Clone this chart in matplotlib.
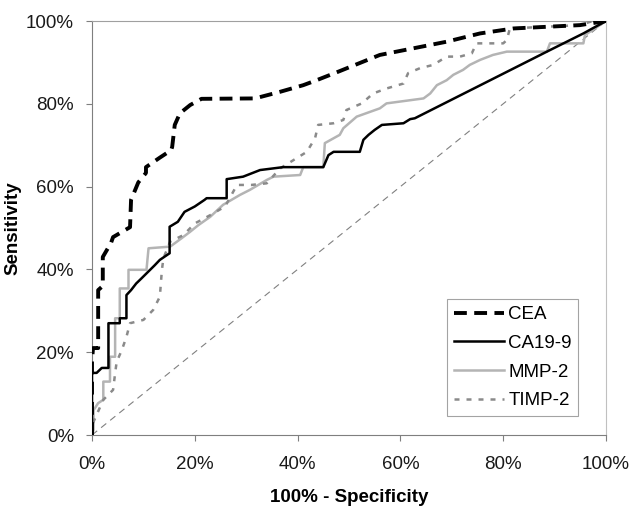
import matplotlib
matplotlib.use("Agg")
import matplotlib.pyplot as plt

# ROC curves, values in percent (100% - specificity, sensitivity)
cea_x = [0, 0, 0.2, 1.2, 1.2, 2.1, 2.1, 3.7, 4.1, 7.4, 7.6, 9.0, 10.5, 10.5,
         13.2, 15.4, 15.6, 16.1, 17.1, 19.1, 21.3, 31.7, 36.6, 41.1, 43.7,
         48.0, 52.0, 56.0, 62.5, 69.0, 75.5, 82.0, 88.5, 94.9, 100]
cea_y = [0, 18, 21, 21, 35, 36, 43, 46.4, 47.8, 50.2, 56.8, 61.0, 63.3, 64.7,
         67.0, 68.8, 69.6, 74.9, 77.7, 79.7, 81.2, 81.3, 82.9, 84.5, 85.7,
         87.8, 89.8, 91.8, 93.4, 95.0, 97.0, 98.2, 98.6, 99.0, 100]

ca199_x = [0, 0, 0.9, 1.9, 3.2, 3.2, 5.4, 5.4, 6.7, 6.7, 7.6, 8.6, 9.6, 10.9,
           12.2, 13.2, 15.1, 15.1, 16.7, 18.0, 20.0, 21.9, 22.3, 26.2, 26.2,
           29.4, 32.7, 37.2, 45.0, 46.0, 47.0, 52.1, 52.8, 53.8, 55.0, 56.4,
           60.6, 61.9, 62.8, 88.5, 95.6, 100]
ca199_y = [0, 15, 15, 16.2, 16.2, 27, 27, 28.2, 28.2, 33.8, 35, 36.6, 37.8,
           39.4, 41, 42.3, 43.9, 50.3, 51.5, 53.9, 55.2, 56.8, 57.2, 57.2,
           61.8, 62.4, 64, 64.7, 64.7, 67.6, 68.4, 68.4, 71.3, 72.5, 73.7,
           74.9, 75.3, 76.3, 76.5, 92.6, 97, 100]

mmp2_x = [0, 0.3, 0.3, 1.2, 2.2, 2.2, 3.5, 3.5, 4.5, 4.5, 5.4, 5.4, 7.1, 7.1,
          10.6, 11.0, 15.2, 17.4, 19.1, 20.7, 23.0, 25.5, 28.8, 30.7, 34.0,
          35.3, 40.5, 41.1, 45.0, 45.3, 48.2, 48.9, 51.5, 56.0, 57.3, 64.5,
          65.8, 67.1, 69.0, 70.3, 72.2, 73.5, 75.5, 78.0, 80.7, 88.5, 89.1,
          95.6, 95.9, 100]
mmp2_y = [0, 1.2, 6, 7.7, 8.5, 12.9, 12.9, 18.9, 18.9, 28.2, 28.2, 35.4,
          35.4, 39.9, 39.9, 45.1, 45.5, 47.5, 49.1, 50.7, 52.7, 55.6, 58,
          59.2, 61.6, 62.4, 62.8, 64.7, 64.7, 70.5, 72.5, 74.1, 76.9, 78.9,
          80.1, 81.3, 82.5, 84.5, 85.7, 87, 88.2, 89.4, 90.6, 91.8, 92.6,
          92.6, 94.6, 94.6, 96.6, 100]

timp2_x = [0, 0.3, 2.2, 4.1, 4.5, 4.8, 5.8, 6.7, 7.4, 10.0, 11.9, 13.2, 13.6,
           13.9, 15.2, 17.8, 20.0, 23.0, 25.9, 28.2, 31.0, 34.0, 36.6, 39.2,
           41.8, 43.4, 44.0, 47.0, 48.9, 49.5, 52.5, 54.7, 57.3, 60.6, 61.5,
           63.8, 66.4, 69.0, 71.6, 73.9, 74.8, 80.0, 80.7, 81.3, 94.9, 96.9,
           100]
timp2_y = [0, 3.2, 8.5, 10.9, 14.9, 17.7, 20.5, 23.7, 27, 27.8, 30.2, 33.4,
           39.9, 42.7, 46.7, 48.3, 51.1, 53.1, 55.2, 60.4, 60.4, 60.8, 64.4,
           66.4, 68.4, 71.7, 74.9, 75.3, 76.1, 78.5, 80.1, 82.5, 83.7, 84.9,
           87.4, 88.6, 89.4, 91.4, 91.4, 92.2, 94.6, 94.6, 95.4, 98.2, 99,
           99.8, 100]

ref_x = [0, 100]
ref_y = [0, 100]

tick_vals = [0, 20, 40, 60, 80, 100]
tick_labels = ["0%", "20%", "40%", "60%", "80%", "100%"]

plt.rcParams['font.family'] = ['Liberation Sans', 'DejaVu Sans']

fig = plt.figure(figsize=(6.33, 5.12), dpi=100)
ax = fig.add_axes([92 / 633, 1 - 435 / 512, 514 / 633, 414 / 512])

# chance line
ax.plot(ref_x, ref_y, color="#808080", lw=0.8, dashes=(6, 4.5), zorder=1)

ax.plot(cea_x, cea_y, color="black", lw=2.8, dashes=(3.3, 1.9), label="CEA", zorder=5)
ax.plot(ca199_x, ca199_y, color="black", lw=1.8, label="CA19-9", zorder=4)
ax.plot(mmp2_x, mmp2_y, color="#b4b4b4", lw=1.8, label="MMP-2", zorder=2)
ax.plot(timp2_x, timp2_y, color="#8a8a8a", lw=1.8, dashes=(2, 2.8), label="TIMP-2", zorder=3)

ax.set_xlim(0, 100)
ax.set_ylim(0, 100)
ax.set_xticks(tick_vals)
ax.set_xticklabels(tick_labels)
ax.set_yticks(tick_vals)
ax.set_yticklabels(tick_labels)
ax.tick_params(axis="both", direction="out", length=4, width=0.8, color="#7f7f7f",
               labelsize=13.5, labelcolor="#1a1a1a")
ax.tick_params(axis="x", pad=11)
ax.tick_params(axis="y", pad=9)

ax.spines["left"].set_color("#7f7f7f")
ax.spines["bottom"].set_color("#7f7f7f")
ax.spines["top"].set_color("#a0a0a0")
ax.spines["right"].set_color("#c0c0c0")
for s in ax.spines.values():
    s.set_linewidth(0.8)

ax.set_xlabel("100% - Specificity", fontsize=13.5, fontweight="bold", labelpad=12)
ax.set_ylabel("Sensitivity", fontsize=13.5, fontweight="bold", labelpad=3.5)

leg = ax.legend(loc="lower right", bbox_to_anchor=(0.946, 0.046), fontsize=13.5,
                frameon=True, fancybox=False, handlelength=2.7, handletextpad=0.2,
                labelspacing=0.62, borderpad=0.35, borderaxespad=0)
leg.get_frame().set_edgecolor("#8c8c8c")
leg.get_frame().set_linewidth(0.8)

fig.savefig("out.png", dpi=100)
